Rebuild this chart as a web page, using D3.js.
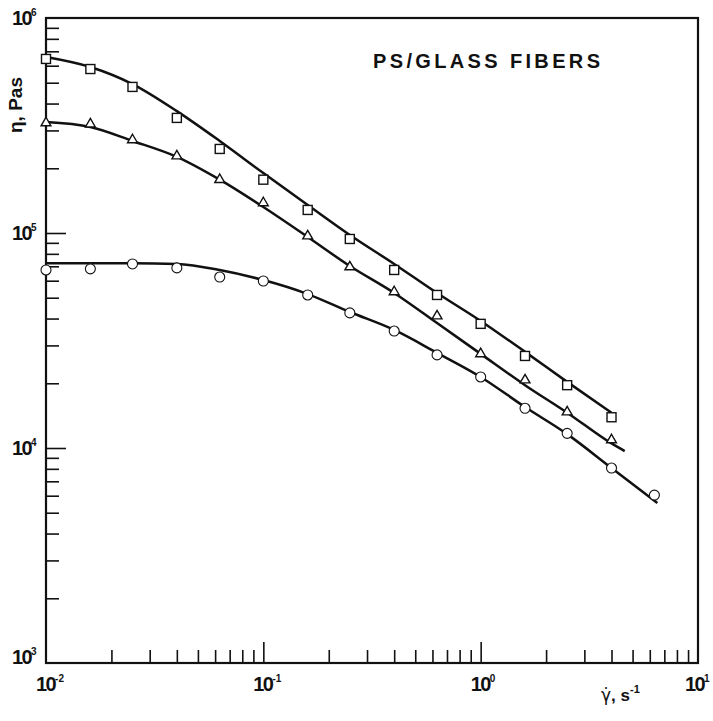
<!DOCTYPE html>
<html>
<head>
<meta charset="utf-8">
<script src="https://cdn.jsdelivr.net/npm/d3@7/dist/d3.min.js"></script>
<style>
  html, body { margin: 0; padding: 0; background: #fff; }
  svg { display: block; }
  text { font-family: "Liberation Sans", Arial, Helvetica, sans-serif; fill: #111; }
</style>
</head>
<body>
<svg id="chart" width="713" height="721"></svg>
<script>
// Shear rates (s^-1) at which viscosity was measured
const shearRates = [0.01, 0.016, 0.025, 0.04, 0.063, 0.1, 0.16, 0.25, 0.4, 0.63, 1.0, 1.6, 2.5, 4.0, 6.3];

// Measured viscosity (Pa s), one array per fibre loading
const etaSquares   = [6.45e5, 5.79e5, 4.78e5, 3.43e5, 2.46e5, 1.77e5, 1.28e5, 9.38e4, 6.73e4, 5.15e4, 3.78e4, 2.68e4, 1.96e4, 1.39e4];
const etaTriangles = [3.25e5, 3.21e5, 2.71e5, 2.28e5, 1.77e5, 1.38e5, 9.68e4, 6.95e4, 5.32e4, 4.11e4, 2.74e4, 2.07e4, 1.47e4, 1.09e4];
const etaCircles   = [6.73e4, 6.81e4, 7.18e4, 6.88e4, 6.24e4, 5.98e4, 5.15e4, 4.25e4, 3.50e4, 2.71e4, 2.14e4, 1.53e4, 1.17e4, 8.07e3, 6.04e3];

// Smooth fitted curves through each data set
const fitRatesSquares   = [0.01, 0.016, 0.025, 0.04, 0.063, 0.1, 0.16, 0.25, 0.4, 0.63, 1.0, 1.6, 2.5, 4.0];
const fitSquares        = [6.59e5, 5.92e5, 4.93e5, 3.69e5, 2.68e5, 1.90e5, 1.35e5, 9.79e4, 7.18e4, 5.26e4, 3.90e4, 2.80e4, 2.03e4, 1.46e4];
const fitRatesTriangles = [0.01, 0.016, 0.025, 0.04, 0.063, 0.1, 0.16, 0.25, 0.4, 0.63, 1.0, 1.6, 2.5, 4.0, 4.6];
const fitTriangles      = [3.28e5, 3.11e5, 2.68e5, 2.26e5, 1.77e5, 1.32e5, 9.58e4, 7.02e4, 5.26e4, 3.81e4, 2.74e4, 1.96e4, 1.46e4, 1.05e4, 9.68e3];
const fitRatesCircles   = [0.01, 0.016, 0.025, 0.04, 0.063, 0.1, 0.16, 0.25, 0.4, 0.63, 1.0, 1.6, 2.5, 4.0, 6.5];
const fitCircles        = [7.24e4, 7.24e4, 7.24e4, 7.18e4, 6.73e4, 6.04e4, 5.20e4, 4.29e4, 3.54e4, 2.77e4, 2.14e4, 1.55e4, 1.16e4, 8.07e3, 5.55e3];

// Axis decades and labels
const xDecades = [1e-2, 1e-1, 1e0, 1e1];
const xExponents = ["-2", "-1", "0", "1"];
const yDecades = [1e3, 1e4, 1e5, 1e6];
const yExponents = ["3", "4", "5", "6"];

const titleText = "PS/GLASS FIBERS";
const yLabelText = "\u03b7, Pas";

const svg = d3.select("#chart");
const plotL = 46, plotR = 698, plotT = 18, plotB = 663;

const x = d3.scaleLog().domain([1e-2, 1e1]).range([plotL, plotR]);
const y = d3.scaleLog().domain([1e3, 1e6]).range([plotB, plotT]);

// minor tick values 2..9 within each decade
function minorTicks(decades) {
  const out = [];
  for (let i = 0; i < decades.length - 1; i++)
    for (let k = 2; k <= 9; k++) out.push(decades[i] * k);
  return out;
}

const axisG = svg.append("g");
function styleAxis(g) {
  g.select(".domain").remove();
  g.selectAll(".tick line").attr("stroke", "#111").attr("stroke-width", 1.6);
}

// inward ticks along the bottom
axisG.append("g").attr("transform", `translate(0,${plotB})`)
  .call(d3.axisBottom(x).tickValues(minorTicks(xDecades)).tickSize(-13).tickSizeOuter(0).tickFormat(""))
  .call(styleAxis);
axisG.append("g").attr("transform", `translate(0,${plotB})`)
  .call(d3.axisBottom(x).tickValues(xDecades.slice(1, -1)).tickSize(-21).tickSizeOuter(0).tickFormat(""))
  .call(styleAxis);
// inward ticks along the left
axisG.append("g").attr("transform", `translate(${plotL},0)`)
  .call(d3.axisLeft(y).tickValues(minorTicks(yDecades)).tickSize(-13).tickSizeOuter(0).tickFormat(""))
  .call(styleAxis);
axisG.append("g").attr("transform", `translate(${plotL},0)`)
  .call(d3.axisLeft(y).tickValues(yDecades.slice(1, -1)).tickSize(-20).tickSizeOuter(0).tickFormat(""))
  .call(styleAxis);

// frame
svg.append("rect")
  .attr("x", plotL).attr("y", plotT)
  .attr("width", plotR - plotL).attr("height", plotB - plotT)
  .attr("fill", "none").attr("stroke", "#111").attr("stroke-width", 2.2);

// power-of-ten tick labels
function powerLabel(g, xpos, ypos, exp) {
  const t = g.append("text")
    .attr("x", xpos).attr("y", ypos)
    .attr("font-size", 20).attr("font-weight", "bold")
    .attr("letter-spacing", -1.6);
  t.append("tspan").text("10");
  t.append("tspan").attr("font-size", 10).attr("dy", -9).attr("letter-spacing", 0).text(exp);
  return t;
}

const labels = svg.append("g");
xDecades.forEach((d, i) => {
  const xp = Math.min(x(d) - 10, 685);
  powerLabel(labels, xp, 691, xExponents[i]);
});
yDecades.forEach((d, i) => {
  const yp = i === 0 ? y(d) + 1 : y(d) + 7;
  powerLabel(labels, 12, yp, yExponents[i]);
});

// axis titles
svg.append("text")
  .attr("transform", "translate(22,105) rotate(-90)")
  .attr("text-anchor", "middle")
  .attr("font-size", 19).attr("font-weight", "bold")
  .text(yLabelText);

const xl = svg.append("text")
  .attr("x", 601).attr("y", 701)
  .attr("font-size", 17).attr("font-weight", "bold");
xl.append("tspan").attr("font-family", "DejaVu Sans").attr("font-weight", "normal").text("\u03b3\u0307");
xl.append("tspan").text(", s");
xl.append("tspan").attr("font-size", 11).attr("dy", -8).text("-1");

// title
svg.append("text")
  .attr("x", 373).attr("y", 68)
  .attr("font-size", 20).attr("font-weight", "bold")
  .attr("textLength", 227).attr("lengthAdjust", "spacing")
  .text(titleText);

// fitted curves
const line = d3.line()
  .x(d => x(d[0])).y(d => y(d[1]))
  .curve(d3.curveMonotoneX);

const curves = [
  [fitRatesSquares, fitSquares],
  [fitRatesTriangles, fitTriangles],
  [fitRatesCircles, fitCircles]
];
svg.append("g").selectAll("path").data(curves).join("path")
  .attr("d", c => line(d3.zip(c[0], c[1])))
  .attr("fill", "none").attr("stroke", "#111").attr("stroke-width", 2.5);

// markers
const mk = svg.append("g").attr("fill", "#fff").attr("stroke", "#111").attr("stroke-width", 1.4);
const sq = 9;
mk.selectAll("rect.sq").data(d3.zip(shearRates, etaSquares)).join("rect")
  .attr("x", d => x(d[0]) - sq / 2).attr("y", d => y(d[1]) - sq / 2)
  .attr("width", sq).attr("height", sq);

const tri = d3.symbol().type(d3.symbolTriangle).size(42);
mk.selectAll("path.tri").data(d3.zip(shearRates, etaTriangles)).join("path")
  .attr("transform", d => `translate(${x(d[0])},${y(d[1])})`)
  .attr("d", tri);

mk.selectAll("circle").data(d3.zip(shearRates, etaCircles)).join("circle")
  .attr("cx", d => x(d[0])).attr("cy", d => y(d[1])).attr("r", 5)
  .attr("stroke-width", 1.1);
</script>
</body>
</html>
